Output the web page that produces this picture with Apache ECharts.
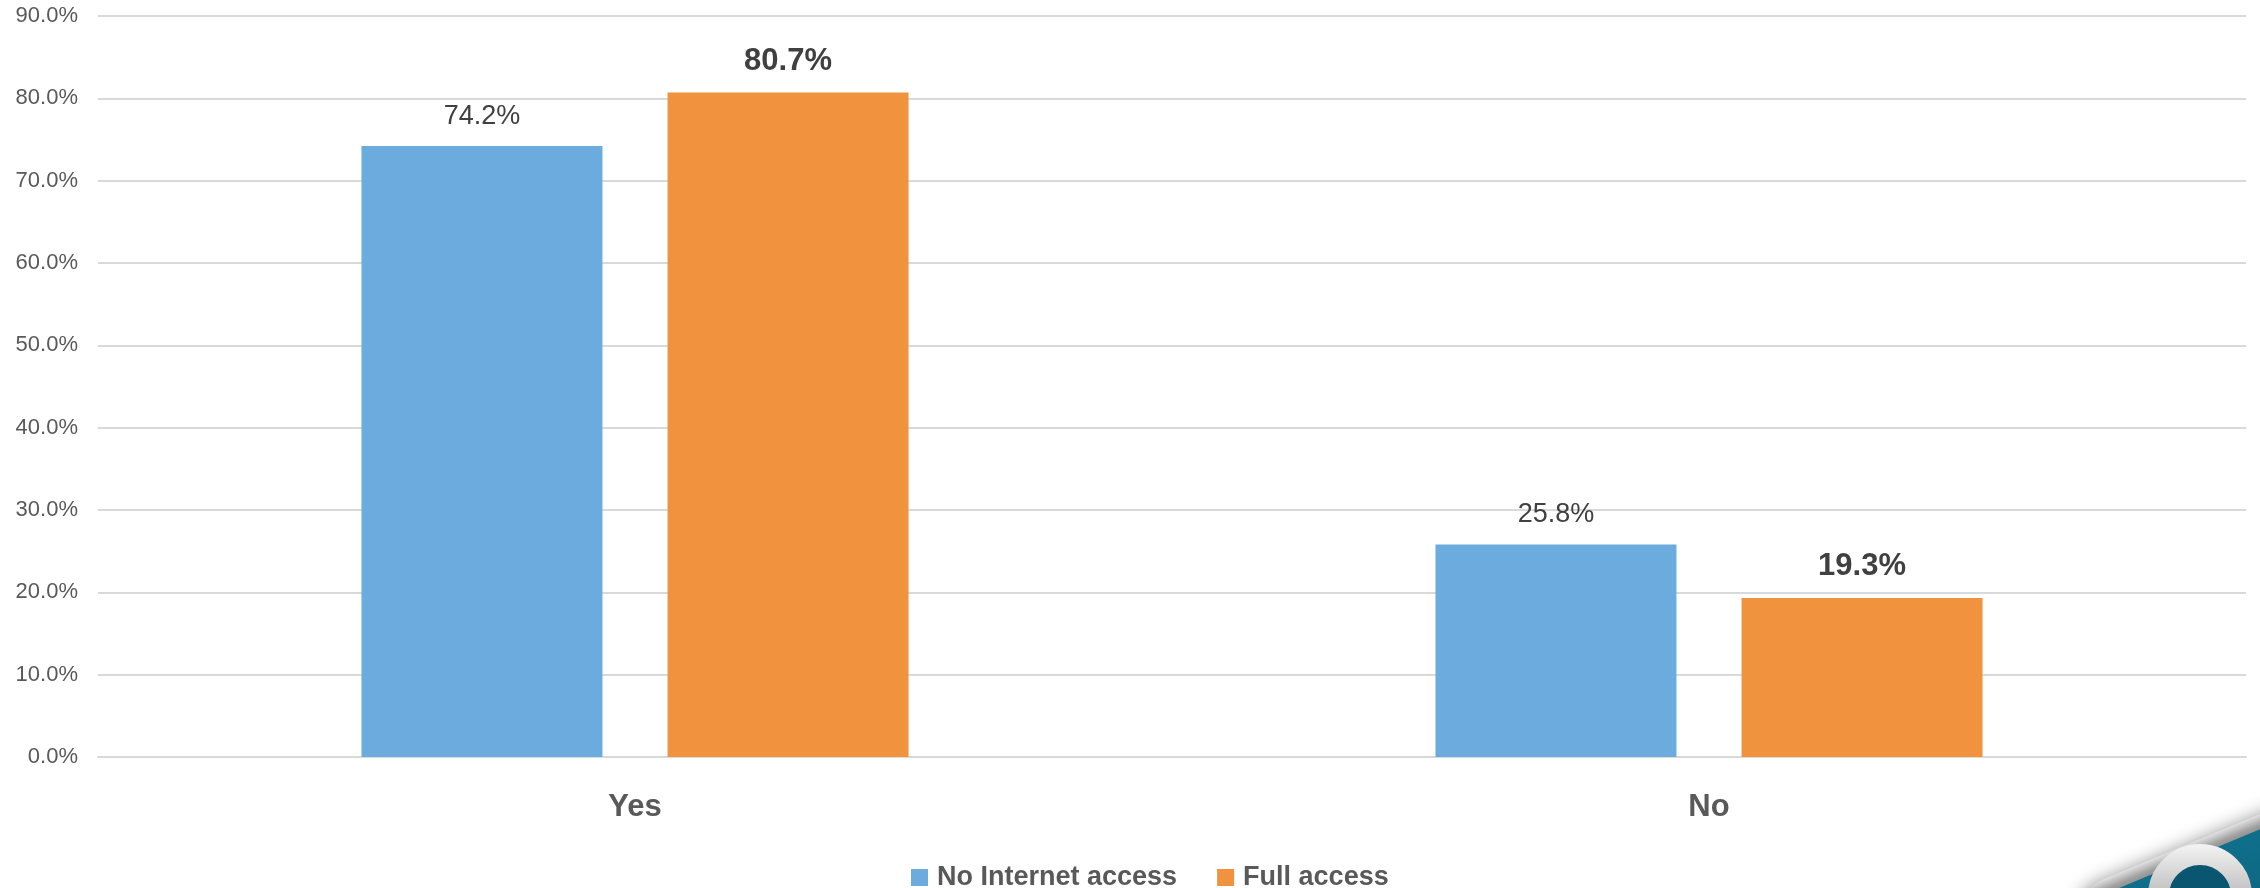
<!DOCTYPE html>
<html>
<head>
<meta charset="utf-8">
<script src="https://cdn.jsdelivr.net/npm/echarts@6/dist/echarts.min.js"></script>
<style>
html,body{margin:0;padding:0;background:#fff;}
#chart{width:2260px;height:888px;}
</style>
</head>
<body>
<div id="chart"></div>
<script>
const categories = ['Yes', 'No'];
const seriesNames = ['No Internet access', 'Full access'];
const noInternetValues = [74.2, 25.8];
const fullAccessValues = [80.7, 19.3];
const yMin = 0, yMax = 90, yStep = 10;

const chart = echarts.init(document.getElementById('chart'), null, {renderer: 'canvas'});
const pct = v => v.toFixed(1) + '%';

const option = {
  backgroundColor: '#ffffff',
  animation: false,
  grid: {left: 98, right: 14, top: 16, bottom: 131},
  legend: {
    left: 906, top: 859,
    icon: 'rect', itemWidth: 17, itemHeight: 17, itemGap: 40,
    data: seriesNames,
    textStyle: {fontFamily: 'Liberation Sans', fontWeight: 'bold', fontSize: 27, color: '#595959', padding: [0,0,0,4]}
  },
  xAxis: {
    type: 'category', data: categories,
    axisLine: {show: true, lineStyle: {color: '#d9d9d9', width: 2}},
    axisTick: {show: false},
    axisLabel: {margin: 35, fontFamily: 'Liberation Sans', fontWeight: 'bold', fontSize: 31, color: '#595959'}
  },
  yAxis: {
    type: 'value', min: yMin, max: yMax, interval: yStep,
    axisLine: {show: false}, axisTick: {show: false},
    splitLine: {lineStyle: {color: '#d9d9d9', width: 2}},
    axisLabel: {margin: 20, formatter: pct, fontFamily: 'Liberation Sans', fontSize: 22, color: '#595959'}
  },
  series: [
    {name: seriesNames[0], type: 'bar', data: noInternetValues,
     barWidth: 241, barGap: '27%',
     itemStyle: {color: '#6CABDD'},
     label: {show: true, position: 'top', distance: 16.5, formatter: p => pct(p.value),
       fontFamily: 'Liberation Sans', fontSize: 27, color: '#404040'}},
    {name: seriesNames[1], type: 'bar', data: fullAccessValues,
     barWidth: 241, barGap: '27%',
     itemStyle: {color: '#F1923F'},
     label: {show: true, position: 'top', distance: 16, formatter: p => pct(p.value),
       fontFamily: 'Liberation Sans', fontWeight: 'bold', fontSize: 31, color: '#404040'}}
  ],
  graphic: [
    {type: 'group', x: 2066, y: 895, rotation: 0.395, children: [
      {type: 'rect', shape: {x: 0, y: 0, width: 330, height: 330, r: 40},
       style: {fill: new echarts.graphic.LinearGradient(0, 0, 0, 1, [
         {offset: 0, color: '#e0e0e0'}, {offset: 0.03, color: '#a0a0a0'}, {offset: 0.08, color: '#6e6e6e'}, {offset: 1, color: '#505050'}]),
         shadowBlur: 18, shadowColor: 'rgba(0,0,0,0.45)', shadowOffsetX: -4, shadowOffsetY: 3}},
      {type: 'rect', shape: {x: 14, y: 14, width: 302, height: 302, r: 30},
       style: {fill: new echarts.graphic.LinearGradient(0, 0, 0, 1, [
         {offset: 0, color: '#0f6f8b'}, {offset: 1, color: '#064a60'}])}}
    ]},
    {type: 'circle', shape: {cx: 2200, cy: 896, r: 41.5},
     style: {fill: '#0a5670', stroke: new echarts.graphic.LinearGradient(0, 0, 0, 1, [
       {offset: 0, color: '#f4f4f4'}, {offset: 0.5, color: '#bdbdbd'}, {offset: 1, color: '#8a8a8a'}]), lineWidth: 21}}
  ]
};
chart.setOption(option);
</script>
</body>
</html>
